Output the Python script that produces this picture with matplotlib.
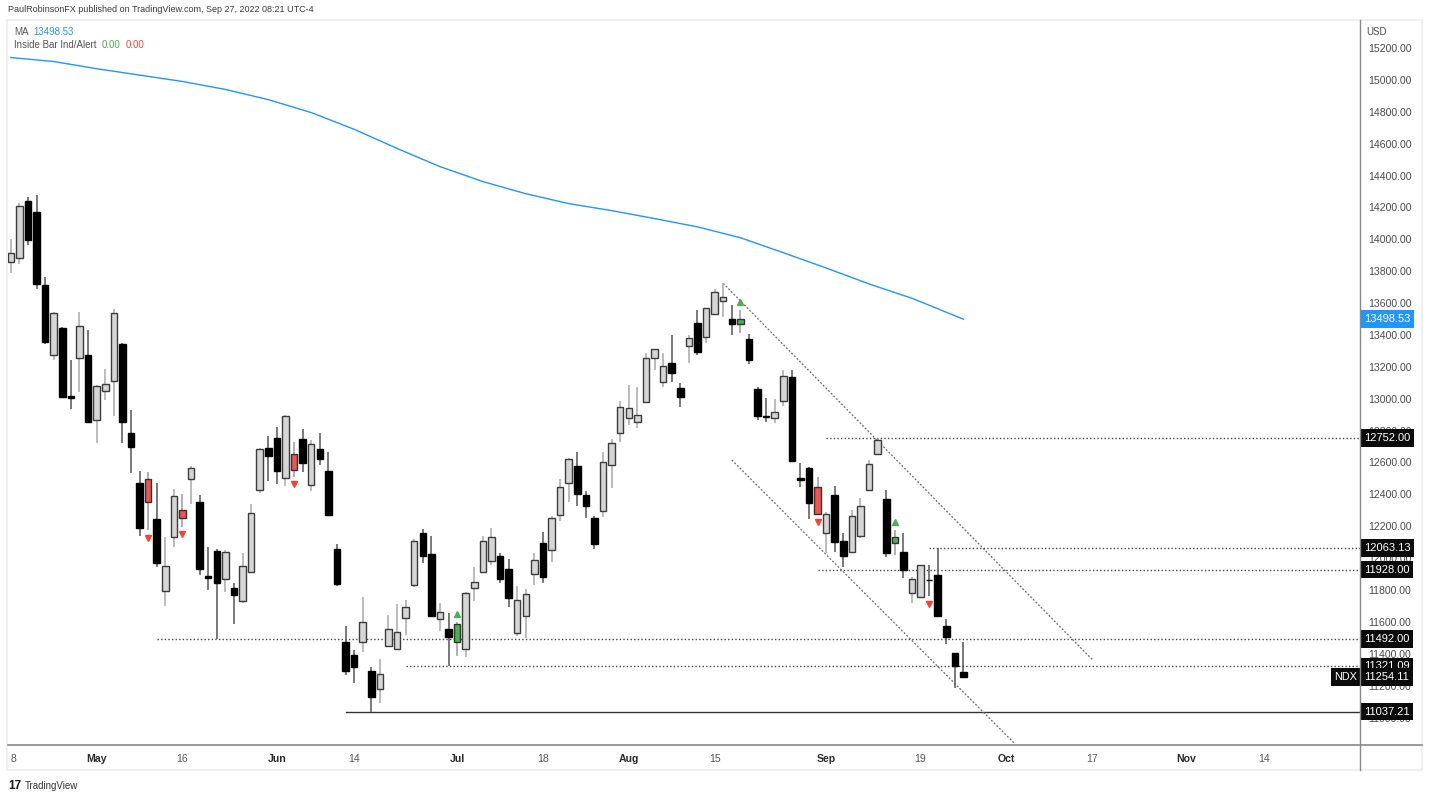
import numpy as np
import pandas as pd
import matplotlib
matplotlib.use('Agg')
import matplotlib.pyplot as plt
from matplotlib.lines import Line2D
from matplotlib.patches import Rectangle
from matplotlib.transforms import blended_transform_factory, Bbox, TransformedBbox

plt.rcParams['font.family'] = ['Liberation Sans', 'DejaVu Sans']

# ---------------- data ----------------
HOLIDAYS = ['2022-05-30', '2022-06-20', '2022-07-04', '2022-09-05', '2022-11-24']
dates = pd.bdate_range('2022-04-18', '2022-09-26', freq='C', holidays=HOLIDAYS)

opens = [13856, 13881, 14242, 14173, 13713, 13273, 13446, 13015, 13254, 13276,
         12869, 13047, 13113, 13344, 12783, 12470, 12497, 12244, 11794, 12131,
         12302, 12497, 12354, 11885, 12045, 11870, 11811, 11734, 11912, 12426,
         12693, 12752, 12501, 12652, 12746, 12457, 12683, 12547, 12058, 11474,
         11393, 11473, 11295, 11178, 11450, 11431, 11627, 11830, 12160, 12024,
         11621, 11555, 11474, 11429, 11811, 11914, 11984, 12012, 11930, 11529,
         11640, 11899, 12094, 12051, 12271, 12470, 12580, 12396, 12254, 12298,
         12585, 12783, 12878, 12852, 12982, 13254, 13107, 13226, 13066, 13333,
         13473, 13386, 13530, 13615, 13498, 13471, 13373, 13061, 12892, 12878,
         12986, 13135, 12500, 12564, 12447, 12160, 12395, 12110, 12041, 12141,
         12428, 12652, 12369, 12094, 12037, 11780, 11759, 11865, 11895, 11577,
         11404, 11288]
highs = [14002, 14230, 14267, 14278, 13766, 13544, 13450, 13243, 13544, 13431,
         13086, 13185, 13561, 13350, 12930, 12547, 12539, 12474, 12131, 12432,
         12403, 12578, 12396, 12072, 12060, 12051, 11847, 12031, 12340, 12690,
         12767, 12821, 12898, 12727, 12808, 12741, 12784, 12668, 12089, 11575,
         11424, 11755, 11320, 11366, 11644, 11711, 11738, 12119, 12181, 12139,
         11717, 11655, 11602, 11790, 11943, 12141, 12188, 12031, 11993, 11826,
         11805, 12035, 12166, 12265, 12495, 12630, 12664, 12422, 12265, 12666,
         12746, 12988, 13086, 13076, 13289, 13312, 13285, 13400, 13097, 13400,
         13557, 13567, 13687, 13724, 13588, 13557, 13404, 13076, 13003, 12997,
         13180, 13180, 12595, 12574, 12507, 12292, 12453, 12156, 12302, 12376,
         12616, 12752, 12428, 12177, 12156, 11884, 11957, 11957, 12063.13, 11621,
         11404, 11476]
lows = [13789, 13845, 13964, 13687, 13344, 13243, 13005, 12938, 13044, 12846,
        12721, 12992, 12892, 12721, 12533, 12141, 12177, 11947, 11700, 12072,
        12198, 12340, 11895, 11801, 11495, 11790, 11587, 11721, 11905, 12411,
        12486, 12464, 12453, 12511, 12543, 12423, 12585, 12271, 11828, 11268,
        11215, 11414, 11037.21, 11094, 11445, 11424, 11519, 11822, 11972, 11640,
        11545, 11321.09, 11387, 11378, 11734, 11905, 11957, 11843, 11696, 11511,
        11499, 11832, 11843, 11978, 12235, 12354, 12330, 12250, 12058, 12260,
        12442, 12731, 12836, 12815, 12982, 13180, 13072, 13107, 12950, 13226,
        13273, 13348, 13530, 13515, 13400, 13411, 13216, 12867, 12856, 12846,
        12955, 12605, 12449, 12244, 12275, 12031, 12041, 11943, 12035, 12125,
        12428, 12652, 12010, 12020, 11874, 11717, 11759, 11763, 11640, 11462,
        11184, 11247]
closes = [13912, 14209, 13996, 13718, 13356, 13536, 13009, 13005, 13456, 12852,
          13078, 13091, 13536, 12852, 12696, 12188, 12351, 11968, 11951, 12390,
          12250, 12564, 11930, 11878, 11843, 12037, 11769, 11951, 12282, 12683,
          12643, 12549, 12894, 12553, 12599, 12714, 12620, 12271, 11836, 11295,
          11320, 11598, 11132, 11272, 11554, 11535, 11696, 12110, 12014, 11640,
          11661, 11508, 11589, 11784, 11853, 12110, 12131, 11867, 11748, 11736,
          11774, 11989, 11880, 12254, 12447, 12622, 12401, 12330, 12091, 12605,
          12721, 12946, 12940, 12898, 13254, 13312, 13206, 13163, 13009, 13379,
          13293, 13567, 13668, 13636, 13469, 13502, 13243, 12894, 12886, 12915,
          13143, 12610, 12493, 12344, 12275, 12275, 12100, 12014, 12263, 12326,
          12589, 12741, 12035, 12135, 11926, 11870, 11957, 11860, 11640, 11505,
          11321, 11254.11]

red_inside = ['2022-05-10', '2022-05-16', '2022-06-03', '2022-08-31']
green_inside = ['2022-07-01', '2022-08-18', '2022-09-14']
red_arrows = ['2022-05-10', '2022-05-16', '2022-06-03', '2022-08-31', '2022-09-20']
green_arrows = ['2022-07-01', '2022-08-18', '2022-09-14']

ma_dates = ['2022-04-18', '2022-04-25', '2022-05-02', '2022-05-09', '2022-05-16',
            '2022-05-23', '2022-05-31', '2022-06-07', '2022-06-14', '2022-06-22',
            '2022-06-29', '2022-07-07', '2022-07-14', '2022-07-21', '2022-07-28',
            '2022-08-04', '2022-08-11', '2022-08-18', '2022-08-25', '2022-09-01',
            '2022-09-09', '2022-09-16', '2022-09-26']
ma_values = [15140, 15115, 15070, 15030, 14990, 14940, 14876, 14795, 14690, 14570,
             14456, 14362, 14286, 14224, 14180, 14130, 14078, 14010, 13916, 13820,
             13720, 13630, 13498.53]

# horizontal levels
level_prices = [12752.00, 12063.13, 11928.00, 11492.00, 11321.09, 11037.21]
level_starts = ['2022-09-01', '2022-09-20', '2022-08-31', '2022-05-11', '2022-06-23', '2022-06-13']
level_solid = [False, False, False, False, False, True]

# channel lines (two anchor points each)
chan_upper_dates = ['2022-08-16', '2022-10-17']
chan_upper_prices = [13724, 11364]
chan_lower_dates = ['2022-08-17', '2022-10-04']
chan_lower_prices = [12616, 10835]

tick_dates = ['2022-04-18', '2022-05-02', '2022-05-16', '2022-06-01', '2022-06-14',
              '2022-07-01', '2022-07-18', '2022-08-01', '2022-08-15', '2022-09-01',
              '2022-09-19', '2022-10-03', '2022-10-17', '2022-11-01', '2022-11-14']
tick_labels = ['18', 'May', '16', 'Jun', '14', 'Jul', '18', 'Aug', '15', 'Sep',
               '19', 'Oct', '17', 'Nov', '14']
month_labels = {'May', 'Jun', 'Jul', 'Aug', 'Sep', 'Oct', 'Nov'}

last_price = 11254.11
ma_last = 13498.53


def to_idx(ds):
    d = np.array(pd.to_datetime(pd.Index(ds)).values.astype('datetime64[D]'))
    return np.busday_count(np.datetime64('2022-05-02'), d, holidays=HOLIDAYS).astype(float)


# ---------------- figure ----------------
W, H = 1430, 800
fig = plt.figure(figsize=(W / 100, H / 100), dpi=100)
fig.patch.set_facecolor('white')

def fx(px):
    return px / W

def fy(py):
    return 1 - py / H

ax_l, ax_r, ax_t, ax_b = 8, 1360, 22, 745
ax = fig.add_axes([fx(ax_l), fy(ax_b), fx(ax_r - ax_l), (ax_b - ax_t) / H])
ax.set_facecolor('white')
for s in ax.spines.values():
    s.set_visible(False)

x = to_idx(dates)
o = np.array(opens, float); h = np.array(highs, float)
l = np.array(lows, float); c = np.array(closes, float)
up = c >= o
ds = [d.strftime('%Y-%m-%d') for d in dates]

body_col = np.where(up, '#d6d6d6', '#000000').astype(object)
edge_col = np.where(up, '#3c3c3c', '#000000').astype(object)
wick_col = np.where(up, '#a8a8a8', '#555555').astype(object)
for k, d in enumerate(ds):
    if d in red_inside:
        body_col[k] = '#f05350'; edge_col[k] = '#333333'; wick_col[k] = '#9a9a9a'
    if d in green_inside:
        body_col[k] = '#4caf50'; edge_col[k] = '#333333'; wick_col[k] = '#9a9a9a'

ax.vlines(x, l, h, colors=list(wick_col), linewidth=1.1, zorder=2)
bottoms = np.minimum(o, c)
heights = np.maximum(np.abs(c - o), 3)
ax.bar(x, heights, bottom=bottoms, width=0.76, color=list(body_col),
       edgecolor=list(edge_col), linewidth=1.0, zorder=3)

# inside bar arrows
ri = [ds.index(d) for d in red_arrows]
gi = [ds.index(d) for d in green_arrows]
ax.plot(x[ri], l[ri] - 48, linestyle='none', marker='v', markersize=5,
        color='#f44336', zorder=4)
ax.plot(x[gi], h[gi] + 48, linestyle='none', marker='^', markersize=5,
        color='#4caf50', zorder=4)

# moving average
ax.plot(to_idx(ma_dates), ma_values, color='#2196f3', linewidth=1.0, zorder=2)

# horizontal levels
xr = 147.5
for p, sd, solid in zip(level_prices, level_starts, level_solid):
    xs = to_idx([sd])[0]
    if solid:
        ax.plot([xs, xr], [p, p], color='#333333', linewidth=1.0, zorder=1)
    else:
        ax.plot([xs, xr], [p, p], color='#444444', linewidth=1.0,
                linestyle=(0, (1, 1.6)), zorder=1)

# channel
ax.plot(to_idx(chan_upper_dates), chan_upper_prices, color='#666666', linewidth=0.9,
        linestyle=(0, (1.5, 1.5)), zorder=1)
ax.plot(to_idx(chan_lower_dates), chan_lower_prices, color='#666666', linewidth=0.9,
        linestyle=(0, (1.5, 1.5)), zorder=1)

# limits (pixel-calibrated)
ax.set_xlim(-10.33, 147.2)
ax.set_ylim(10828, 15363)

# x ticks
ax.set_xticks(to_idx(tick_dates))
ax.set_xticklabels(tick_labels)
ax.tick_params(axis='x', length=0, pad=6.5, labelsize=7.6, colors='#555555')
clipbb = TransformedBbox(Bbox([[fx(ax_l + 3), 0], [fx(ax_r), 1]]), fig.transFigure)
for t in ax.get_xticklabels():
    if t.get_text() in month_labels:
        t.set_color('#2a2a2a')
        t.set_fontweight('bold')
    t.set_clip_on(True)
    t.set_clip_box(clipbb)

# y ticks on right
yt = np.arange(11000, 15201, 200)
ax.yaxis.tick_right()
ax.set_yticks(yt)
ax.set_yticklabels([f'{v:.2f}' for v in yt])
ax.tick_params(axis='y', length=0, pad=6, labelsize=7.6, colors='#4a4a4a')

# price labels on axis
tr = blended_transform_factory(ax.transAxes, ax.transData)
box_kw = dict(boxstyle='square,pad=0.34', edgecolor='none')
for p in level_prices + [last_price]:
    ax.text(1.003, p, f'{p:.2f}', transform=tr, fontsize=8, color='white',
            va='center', ha='left', bbox=dict(box_kw, facecolor='#0b0b0b'),
            zorder=10, clip_on=False)
ax.text(1.003, ma_last, f'{ma_last:.2f}', transform=tr, fontsize=8, color='white',
        va='center', ha='left', bbox=dict(box_kw, facecolor='#2196f3'),
        zorder=10, clip_on=False)
ax.text(0.998, last_price, 'NDX', transform=tr, fontsize=7.8, color='white',
        va='center', ha='right', bbox=dict(box_kw, facecolor='#0b0b0b'),
        zorder=10, clip_on=False)

# frame lines
fig.add_artist(Line2D([fx(8), fx(1422)], [fy(ax_b), fy(ax_b)], color='#888888', linewidth=1.2))
fig.add_artist(Line2D([fx(1360), fx(1360)], [fy(20), fy(770)], color='#888888', linewidth=1.0))
fig.add_artist(Rectangle((fx(7), fy(770)), fx(1422 - 7), (770 - 20) / H, fill=False,
                         edgecolor='#ececf0', linewidth=1.2, transform=fig.transFigure))

# header and legend texts
fig.text(fx(8), fy(10), 'PaulRobinsonFX published on TradingView.com, Sep 27, 2022 08:21 UTC-4',
         fontsize=6.5, color='#3a3a3a', va='center', ha='left')
fig.text(fx(14), fy(32), 'MA', fontsize=7, color='#555555', va='center', ha='left')
fig.text(fx(33), fy(32), f'{ma_last:.2f}', fontsize=7, color='#2196f3', va='center', ha='left')
fig.text(fx(14), fy(45), 'Inside Bar Ind/Alert', fontsize=7, color='#555555', va='center', ha='left')
fig.text(fx(102), fy(45), '0.00', fontsize=7, color='#4caf50', va='center', ha='left')
fig.text(fx(126), fy(45), '0.00', fontsize=7, color='#f44336', va='center', ha='left')
fig.text(fx(1366), fy(32), 'USD', fontsize=7, color='#4a4a4a', va='center', ha='left')
fig.text(fx(8), fy(786), '17', fontsize=8.5, color='#131722', fontweight='bold', va='center', ha='left')
fig.text(fx(25), fy(786), 'TradingView', fontsize=7, color='#333333', va='center', ha='left')

fig.savefig('out.png', dpi=100, facecolor='white')
